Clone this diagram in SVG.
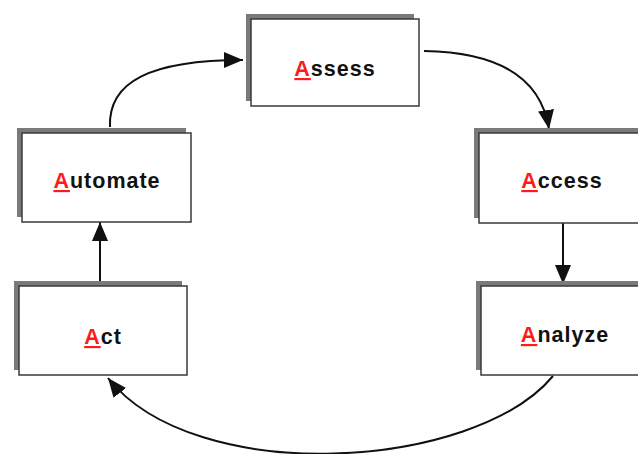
<svg xmlns="http://www.w3.org/2000/svg" width="638" height="454" viewBox="0 0 638 454">
  <defs>
    <style>
      .shadow { fill: #7a7a7a; }
      .box { fill: #ffffff; stroke: #3a3a3a; stroke-width: 1.5; }
      .label { font-family: "Liberation Sans", Arial, sans-serif; font-weight: bold; font-size: 21.5px; letter-spacing: 1px; fill: #111111; text-anchor: middle; }
      .initial { fill: #ff1a1a; text-decoration: underline; }
      .link { fill: none; stroke: #111111; stroke-width: 2; }
    </style>
    <marker id="arrow" markerUnits="userSpaceOnUse" markerWidth="22" markerHeight="18" refX="19" refY="8" orient="auto">
      <path d="M0,0 L19,8 L0,16 z" fill="#111111"/>
    </marker>
  </defs>

  <rect width="638" height="454" fill="#ffffff"/>

  <!-- connectors -->
  <g id="connectors">
    <path class="link" d="M110,127 C108,82 150,60 243,60" marker-end="url(#arrow)"/>
    <path class="link" d="M424,51 C490,52 540,72 549,129" marker-end="url(#arrow)"/>
    <path class="link" d="M563,222 L563,284" marker-end="url(#arrow)"/>
    <path class="link" d="M100,283 L100,222" marker-end="url(#arrow)"/>
    <path class="link" d="M553,376 C475,470 195,488 108,378" marker-end="url(#arrow)"/>
  </g>

  <!-- nodes -->
  <g id="assess">
    <rect class="shadow" x="246" y="14" width="168" height="87"/>
    <rect class="box" x="251" y="19" width="168" height="87"/>
    <text class="label" x="335" y="76"><tspan class="initial">A</tspan>ssess</text>
  </g>

  <g id="access">
    <rect class="shadow" x="474" y="128" width="168" height="90"/>
    <rect class="box" x="479" y="133" width="168" height="90"/>
    <text class="label" x="562" y="188"><tspan class="initial">A</tspan>ccess</text>
  </g>

  <g id="analyze">
    <rect class="shadow" x="476" y="281" width="168" height="89"/>
    <rect class="box" x="481" y="286" width="168" height="89"/>
    <text class="label" x="565" y="342"><tspan class="initial">A</tspan>nalyze</text>
  </g>

  <g id="act">
    <rect class="shadow" x="14" y="281" width="168" height="89"/>
    <rect class="box" x="19" y="286" width="168" height="89"/>
    <text class="label" x="103" y="344"><tspan class="initial">A</tspan>ct</text>
  </g>

  <g id="automate">
    <rect class="shadow" x="17" y="128" width="169" height="89"/>
    <rect class="box" x="22" y="133" width="169" height="89"/>
    <text class="label" x="107" y="188"><tspan class="initial">A</tspan>utomate</text>
  </g>
</svg>
